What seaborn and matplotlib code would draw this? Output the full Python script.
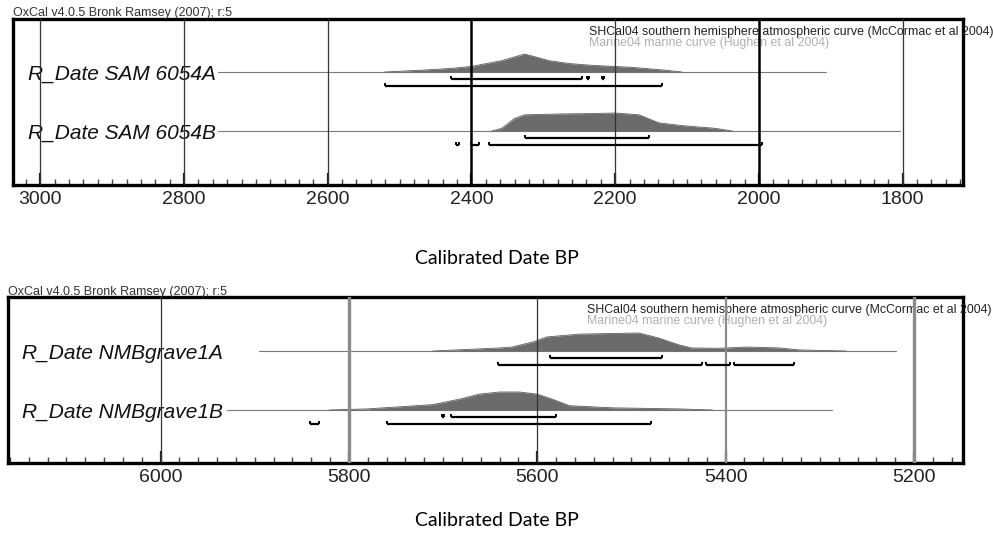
import matplotlib
matplotlib.use("Agg")
import matplotlib.pyplot as plt
from matplotlib.ticker import MultipleLocator
import pandas as pd
import seaborn as sns

# ---- top panel: SAM 6054 ----
sam_labels = ["R_Date SAM 6054A", "R_Date SAM 6054B"]
sam_a_bp = [2521, 2470, 2428, 2398, 2386, 2358, 2326, 2292, 2264, 2232, 2177, 2130, 2107]
sam_a_prob = [0, 0.1, 0.2, 0.32, 0.42, 0.63, 1.0, 0.63, 0.47, 0.37, 0.26, 0.1, 0]
sam_b_bp = [2372, 2358, 2340, 2326, 2274, 2232, 2200, 2167, 2139, 2107, 2061, 2037]
sam_b_prob = [0, 0.15, 0.7, 0.9, 0.95, 0.97, 1.0, 0.9, 0.45, 0.3, 0.15, 0]
sam_spans = [(2753, 1907), (2753, 1804)]
sam_68 = [[(2428, 2246), (2239, 2236), (2218, 2215)], [(2326, 2153)]]
sam_95 = [[(2521, 2135)], [(2422, 2417), (2400, 2389), (2375, 1996)]]

# ---- bottom panel: NMB grave 1 ----
nmb_labels = ["R_Date NMBgrave1A", "R_Date NMBgrave1B"]
nmb_a_bp = [5711, 5640, 5627, 5605, 5590, 5555, 5492, 5471, 5449, 5436, 5407, 5378, 5343, 5322, 5272]
nmb_a_prob = [0, 0.17, 0.22, 0.5, 0.78, 0.94, 1.0, 0.72, 0.33, 0.17, 0.15, 0.22, 0.17, 0.06, 0]
nmb_b_bp = [5821, 5781, 5746, 5711, 5683, 5662, 5640, 5619, 5600, 5584, 5566, 5520, 5449, 5414]
nmb_b_prob = [0, 0.06, 0.18, 0.3, 0.6, 0.88, 1.0, 1.0, 0.88, 0.6, 0.24, 0.12, 0.06, 0]
nmb_spans = [(5895, 5219), (5930, 5287)]
nmb_68 = [[(5587, 5468)], [(5701, 5699), (5692, 5580)]]
nmb_95 = [[(5642, 5425), (5421, 5395), (5391, 5327)], [(5841, 5832), (5760, 5479)]]

header = "OxCal v4.0.5 Bronk Ramsey (2007); r:5"
curve1 = "SHCal04 southern hemisphere atmospheric curve (McCormac et al 2004)"
curve2 = "Marine04 marine curve (Hughen et al 2004)"
xlabel = "Calibrated Date BP"

W, H = 993, 540
SANS = ["Liberation Sans", "DejaVu Sans"]


def fx(px):
    return px / W


def fy(py):
    return 1 - py / H


def draw_panel(ax, labels, curves, spans, r68, r95, rows_y, grid_style, lab_x):
    for i, lab in enumerate(labels):
        base = rows_y[i]
        # thin calculation line
        line = pd.DataFrame({"bp": list(spans[i]), "y": [base, base]})
        sns.lineplot(data=line, x="bp", y="y", ax=ax, color="#7a7a7a", lw=0.8, sort=False)
        # probability distribution
        bp, prob = curves[i]
        dens = pd.DataFrame({"bp": bp, "y": [base - 18 * p for p in prob]})
        ax.fill_between(dens["bp"], base, dens["y"], color="#6b6b6b", lw=0, zorder=3)
        sns.lineplot(data=dens, x="bp", y="y", ax=ax, color="#5e5e5e", lw=0.6, sort=False, zorder=3)
        # ranges
        for ranges, off in ((r68[i], 7), (r95[i], 13.5)):
            for a, b in ranges:
                ax.hlines(base + off, a, b, color="black", lw=1.6, zorder=4)
                ax.vlines([a, b], base + off - 3, base + off, color="black", lw=1.4, zorder=4)
        ax.text(lab_x, base + 2.5, lab, transform=ax.get_yaxis_transform(),
                fontsize=15, style="italic", family=SANS, va="center", ha="left", color="#111")
    for xv, (lw, col) in grid_style.items():
        ax.axvline(xv, color=col, lw=lw, zorder=3.5)
    ax.text(0.606, 1 - 13 / 166, curve1, transform=ax.transAxes, fontsize=8.9,
            family=SANS, color="#222", va="center", clip_on=False)
    ax.text(0.606, 1 - 24 / 166, curve2, transform=ax.transAxes, fontsize=8.9,
            family=SANS, color="#b0b0b0", va="center", clip_on=False)
    ax.set_ylim(166, 0)
    ax.set_yticks([])
    ax.set_xlabel("")
    ax.set_ylabel("")
    ax.xaxis.set_major_locator(MultipleLocator(200))
    ax.xaxis.set_minor_locator(MultipleLocator(20))
    ax.tick_params(axis="x", which="major", direction="in", length=9, width=1.6,
                   labelsize=14, pad=4, bottom=True, colors="#222")
    ax.tick_params(axis="x", which="minor", direction="in", length=4, width=1,
                   bottom=True, color="#444")
    for lbl in ax.get_xticklabels():
        lbl.set_family(SANS)
    for s in ax.spines.values():
        s.set_visible(True)
        s.set_color("black")
        s.set_linewidth(2.4)


def main():
    sns.set_style("white")
    plt.rcParams["font.family"] = SANS
    fig = plt.figure(figsize=(W / 100, H / 100), dpi=100)

    ax1 = fig.add_axes([fx(13), fy(185), fx(950), 166 / H])
    draw_panel(ax1, sam_labels, [(sam_a_bp, sam_a_prob), (sam_b_bp, sam_b_prob)],
               sam_spans, sam_68, sam_95, [53, 112],
               {3000: (0.9, "#333"), 2800: (0.9, "#333"), 2600: (0.9, "#333"),
                2400: (1.8, "black"), 2200: (0.9, "#333"), 2000: (1.8, "black"),
                1800: (0.9, "#333")}, 15 / 950)
    ax1.set_xlim(3038, 1716)

    ax2 = fig.add_axes([fx(8), fy(463), fx(955), 166 / H])
    draw_panel(ax2, nmb_labels, [(nmb_a_bp, nmb_a_prob), (nmb_b_bp, nmb_b_prob)],
               nmb_spans, nmb_68, nmb_95, [54, 113],
               {6000: (0.9, "#333"), 5800: (2.4, "#8a8a8a"), 5600: (0.9, "#333"),
                5400: (1.6, "#8a8a8a"), 5200: (2.4, "#8a8a8a")}, 14 / 955)
    ax2.set_xlim(6162, 5148)

    fig.text(fx(13), fy(13), header, fontsize=9, family=SANS, color="#333", va="center")
    fig.text(fx(8), fy(292), header, fontsize=9, family=SANS, color="#333", va="center")
    for yy in (258, 520):
        fig.text(fx(497), fy(yy), xlabel, fontsize=14, family=["Lato", "DejaVu Sans"],
                 color="black", ha="center", va="center")

    fig.savefig("out.png", dpi=100)


if __name__ == "__main__":
    main()
